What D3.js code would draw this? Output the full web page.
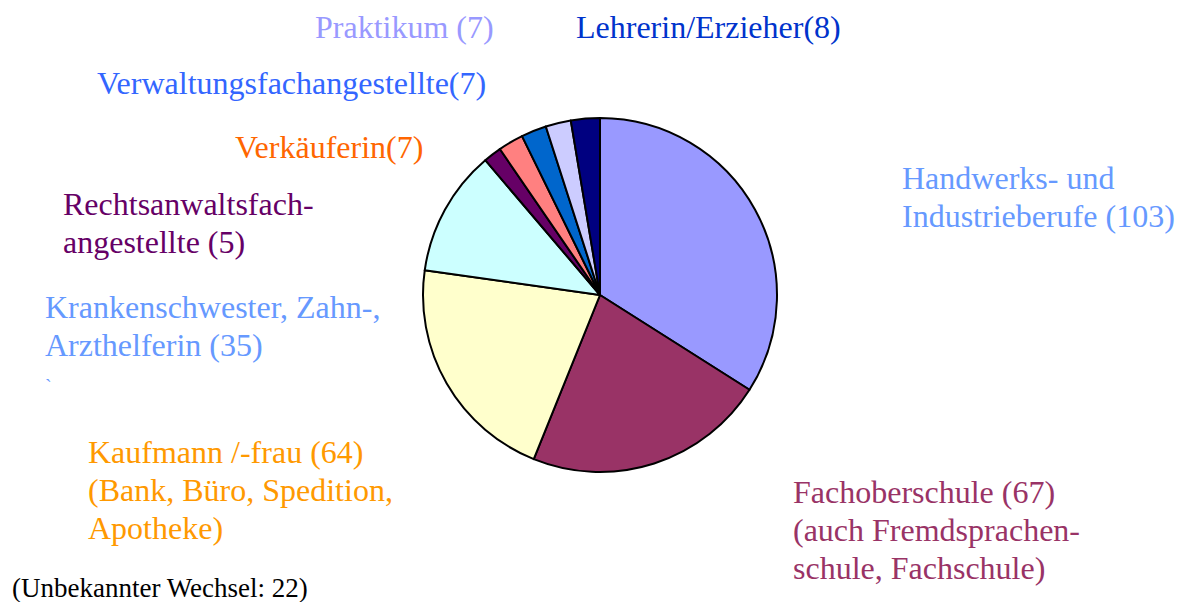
<!DOCTYPE html>
<html><head><meta charset="utf-8">
<script src="https://cdn.jsdelivr.net/npm/d3@7"></script>
<style>body{margin:0;background:#fff}svg{display:block}</style>
</head><body>
<svg id="c" width="1181" height="602"></svg>
<script>
// Data
const categories = ["Handwerks- und Industrieberufe","Fachoberschule","Kaufmann /-frau","Krankenschwester, Zahn-, Arzthelferin","Rechtsanwaltsfachangestellte","Verkäuferin","Verwaltungsfachangestellte","Praktikum","Lehrerin/Erzieher"];
const values = [103, 67, 64, 35, 5, 7, 7, 7, 8];
const labelLines = [
  ["Handwerks- und", "Industrieberufe (103)"],
  ["Fachoberschule (67)", "(auch Fremdsprachen-", "schule, Fachschule)"],
  ["Kaufmann /-frau (64)", "(Bank, Büro, Spedition,", "Apotheke)"],
  ["Krankenschwester, Zahn-,", "Arzthelferin (35)", "`"],
  ["Rechtsanwaltsfach-", "angestellte (5)"],
  ["Verkäuferin(7)"],
  ["Verwaltungsfachangestellte(7)"],
  ["Praktikum (7)"],
  ["Lehrerin/Erzieher(8)"]
];
const note = "(Unbekannter Wechsel: 22)";

// Styles / layout
const sliceColors = ["#9999FF","#993366","#FFFFCC","#CCFFFF","#660066","#FF8080","#0066CC","#CCCCFF","#000080"];
const textColors  = ["#6699FF","#993366","#FF9900","#6699FF","#660066","#FF6600","#3366FF","#9999FF","#0033CC"];
const labelPos = [[902,189],[793,503],[88,463],[45,318],[63,215],[235,158],[97,94],[315,38],[576,38]];
const lineH = 38, fontSize = 32;
const cx = 600, cy = 295, R = 177;

const svg = d3.select("#c");
const pie = d3.pie().sort(null).value(d => d)(values);
const arc = d3.arc().innerRadius(0).outerRadius(R);
const g = svg.append("g").attr("transform", `translate(${cx},${cy})`);
g.selectAll("path").data(pie).join("path")
  .attr("d", arc)
  .attr("fill", (d,i) => sliceColors[i])
  .attr("stroke", "#000").attr("stroke-width", 2).attr("stroke-linejoin","round");

const lab = svg.append("g").attr("font-family", "'Liberation Serif','Times New Roman',serif").attr("font-size", fontSize);
labelLines.forEach((lines, i) => {
  const t = lab.append("text").attr("fill", textColors[i])
    .attr("x", labelPos[i][0]).attr("y", labelPos[i][1]);
  lines.forEach((s, k) => {
    t.append("tspan").attr("x", labelPos[i][0]).attr("y", labelPos[i][1] + k*lineH)
      .attr("font-size", s === "`" ? 20 : null).text(s);
  });
});
lab.append("text").attr("x", 12).attr("y", 597).attr("fill", "#000").attr("font-size", 27).text(note);
</script>
</body></html>
